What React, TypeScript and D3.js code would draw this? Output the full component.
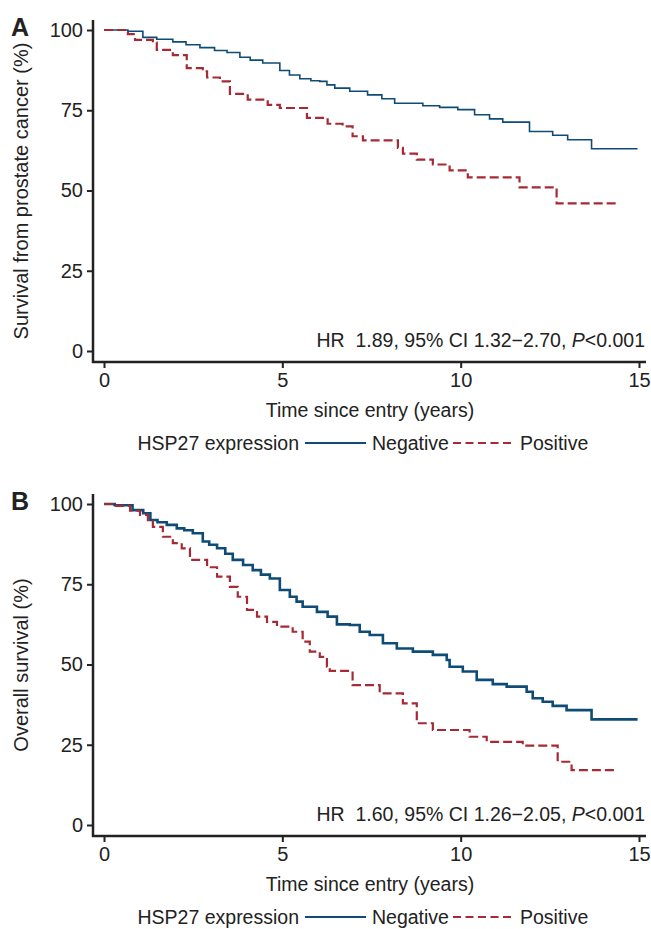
import React, { useEffect, useRef } from 'react';
import * as d3 from 'd3';

// Kaplan-Meier step points (years, % surviving)
const negTimeA = [0, 0.67, 1.09, 1.48, 1.93, 2.3, 2.69, 3.1, 3.45, 3.81, 4.1, 4.45, 4.93, 5.2, 5.49, 5.8, 6.05, 6.25, 6.47, 6.89, 7.39, 7.79, 8.15, 8.94, 9.41, 9.92, 10.39, 10.81, 11.18, 11.93, 12.58, 13.0, 13.67, 14.96];
const negSurvA = [100, 99.6, 97.7, 97.1, 96.3, 95.4, 94.5, 93.6, 93.0, 91.5, 90.6, 89.7, 87.4, 86.0, 84.8, 84.2, 84.0, 82.9, 81.9, 80.9, 79.8, 78.6, 77.2, 76.4, 75.9, 75.2, 73.6, 72.3, 71.3, 68.4, 67.2, 65.8, 63.0, 63.0];
const posTimeA = [0, 0.67, 0.87, 1.37, 1.48, 1.93, 2.32, 2.77, 2.89, 3.25, 3.53, 4.03, 4.59, 4.93, 5.69, 6.27, 6.69, 6.97, 7.26, 8.24, 8.38, 8.77, 9.22, 9.69, 10.2, 11.65, 12.69, 14.37];
const posSurvA = [100, 98.7, 96.9, 96.1, 93.8, 92.2, 88.1, 87.1, 85.2, 84.0, 80.1, 78.3, 76.7, 75.7, 72.6, 70.8, 70.0, 66.9, 65.6, 63.3, 61.5, 59.6, 58.1, 56.3, 54.1, 51.0, 46.0, 46.0];

const negTimeB = [0, 0.3, 0.8, 1.1, 1.3, 1.5, 1.76, 2.04, 2.25, 2.49, 2.77, 2.95, 3.17, 3.4, 3.61, 3.9, 4.17, 4.4, 4.65, 4.93, 5.21, 5.4, 5.57, 5.97, 6.27, 6.53, 6.89, 7.17, 7.45, 7.82, 8.21, 8.66, 9.22, 9.61, 9.69, 10.06, 10.45, 10.9, 11.29, 11.85, 12.02, 12.3, 12.58, 12.97, 13.67, 14.96];
const negSurvB = [100, 99.6, 98.1, 97.1, 95.0, 94.3, 93.5, 92.4, 91.8, 90.9, 88.3, 87.3, 86.2, 84.5, 82.6, 81.0, 79.4, 78.0, 76.8, 73.2, 71.1, 69.6, 68.0, 66.4, 64.9, 62.5, 62.3, 60.2, 59.2, 56.6, 55.0, 54.0, 53.0, 51.4, 49.3, 47.8, 45.2, 43.9, 43.1, 41.5, 39.5, 38.4, 37.1, 35.8, 32.9, 32.9];
const posTimeB = [0, 0.25, 0.73, 1.01, 1.23, 1.37, 1.65, 1.93, 2.18, 2.41, 2.89, 3.17, 3.53, 3.75, 4.01, 4.29, 4.57, 4.85, 5.29, 5.57, 5.77, 6.05, 6.25, 6.33, 6.97, 7.73, 8.38, 8.77, 9.22, 10.25, 10.73, 11.74, 12.72, 13.11, 14.37];
const posSurvB = [100, 99.4, 97.9, 96.6, 95.0, 92.9, 89.8, 87.8, 86.2, 82.6, 80.3, 77.4, 74.2, 71.1, 67.0, 64.9, 63.3, 61.8, 60.2, 57.1, 54.0, 52.4, 49.3, 48.0, 43.6, 41.0, 37.9, 31.7, 29.6, 27.5, 25.9, 24.7, 19.7, 17.1, 17.1];

const xTicks = [0, 5, 10, 15];
const yTicks = [0, 25, 50, 75, 100];

const panels = [
  {
    letter: 'A', top: 0, yTitle: 'Survival from prostate cancer (%)', hr: '1.89', ci: '1.32\u22122.70',
    neg: { t: negTimeA, s: negSurvA, w: 1.6 }, pos: { t: posTimeA, s: posSurvA, w: 2.2 },
  },
  {
    letter: 'B', top: 474, yTitle: 'Overall survival (%)', hr: '1.60', ci: '1.26\u22122.05',
    neg: { t: negTimeB, s: negSurvB, w: 2.6 }, pos: { t: posTimeB, s: posSurvB, w: 2.2 },
  },
];

const BLUE = '#0e4c76';
const RED = '#a52a35';
const INK = '#222';
const FONT = '"Liberation Sans", Arial, Helvetica, sans-serif';

const App = () => {
  const ref = useRef(null);

  useEffect(() => {
    const svg = d3.select(ref.current);
    svg.selectAll('*').remove();

    const x = d3.scaleLinear().domain([0, 15]).range([104, 639]);

    panels.forEach(p => {
      const g = svg.append('g').attr('transform', `translate(0,${p.top})`);
      const y = d3.scaleLinear().domain([0, 100]).range([351, 30]);

      // panel letter
      g.append('text').attr('x', 11).attr('y', 36).attr('font-size', 25).attr('font-weight', 'bold')
        .attr('font-family', FONT).attr('fill', INK).text(p.letter);

      // y axis
      const ya = g.append('g').attr('transform', 'translate(93,0)')
        .call(d3.axisLeft(y).tickValues(yTicks).tickSize(6).tickPadding(4).tickSizeOuter(0));
      ya.select('.domain').remove();
      ya.selectAll('line').attr('stroke', INK).attr('stroke-width', 2);
      ya.selectAll('text').attr('font-size', 20).attr('font-family', FONT).attr('fill', INK);

      // x axis
      const xa = g.append('g').attr('transform', 'translate(0,362)')
        .call(d3.axisBottom(x).tickValues(xTicks).tickSize(6).tickPadding(5).tickSizeOuter(0));
      xa.select('.domain').remove();
      xa.selectAll('line').attr('stroke', INK).attr('stroke-width', 2);
      xa.selectAll('text').attr('font-size', 20).attr('font-family', FONT).attr('fill', INK);

      g.append('line').attr('x1', 93).attr('x2', 93).attr('y1', 20).attr('y2', 363)
        .attr('stroke', INK).attr('stroke-width', 2.5);
      g.append('line').attr('x1', 92).attr('x2', 646).attr('y1', 362).attr('y2', 362)
        .attr('stroke', INK).attr('stroke-width', 2.5);

      // titles
      g.append('text').attr('transform', `translate(28,${(20 + 362) / 2}) rotate(-90)`)
        .attr('text-anchor', 'middle').attr('font-size', 20).attr('font-family', FONT).attr('fill', INK)
        .text(p.yTitle);
      g.append('text').attr('x', 370).attr('y', 417).attr('text-anchor', 'middle')
        .attr('font-size', 19.5).attr('font-family', FONT).attr('fill', INK).text('Time since entry (years)');

      // HR annotation
      const hr = g.append('text').attr('x', 645).attr('y', 347).attr('text-anchor', 'end')
        .attr('font-size', 19.5).attr('font-family', FONT).attr('fill', INK);
      hr.append('tspan').text(`HR\u00a0\u00a0${p.hr}, 95% CI ${p.ci}, `);
      hr.append('tspan').attr('font-style', 'italic').text('P');
      hr.append('tspan').text('<0.001');

      // curves
      const line = d3.line<[number, number]>()
        .x(d => x(d[0])).y(d => y(d[1])).curve(d3.curveStepAfter);
      const series = [
        { d: p.neg, color: BLUE, dash: null },
        { d: p.pos, color: RED, dash: '9,4' },
      ];
      series.forEach(sr => {
        const pts = sr.d.t.map((t, i) => [t, sr.d.s[i]] as [number, number]);
        g.append('path').attr('d', line(pts)).attr('fill', 'none')
          .attr('stroke', sr.color).attr('stroke-width', sr.d.w)
          .attr('stroke-dasharray', sr.dash);
      });

      // legend
      const ly = 450;
      const leg = g.append('g').attr('font-size', 19.5).attr('font-family', FONT).attr('fill', INK);
      leg.append('text').attr('x', 299).attr('y', ly).attr('text-anchor', 'end').text('HSP27 expression');
      leg.append('line').attr('x1', 305).attr('x2', 366).attr('y1', ly - 7).attr('y2', ly - 7)
        .attr('stroke', BLUE).attr('stroke-width', 2);
      leg.append('text').attr('x', 372).attr('y', ly).text('Negative');
      leg.append('line').attr('x1', 453).attr('x2', 513).attr('y1', ly - 7).attr('y2', ly - 7)
        .attr('stroke', RED).attr('stroke-width', 2).attr('stroke-dasharray', '8,4.5');
      leg.append('text').attr('x', 520).attr('y', ly).text('Positive');
    });
  }, []);

  return (
    <svg ref={ref} width={651} height={929}
      style={{ position: 'absolute', left: 0, top: 0, background: '#fff' }} />
  );
};

export default App;
